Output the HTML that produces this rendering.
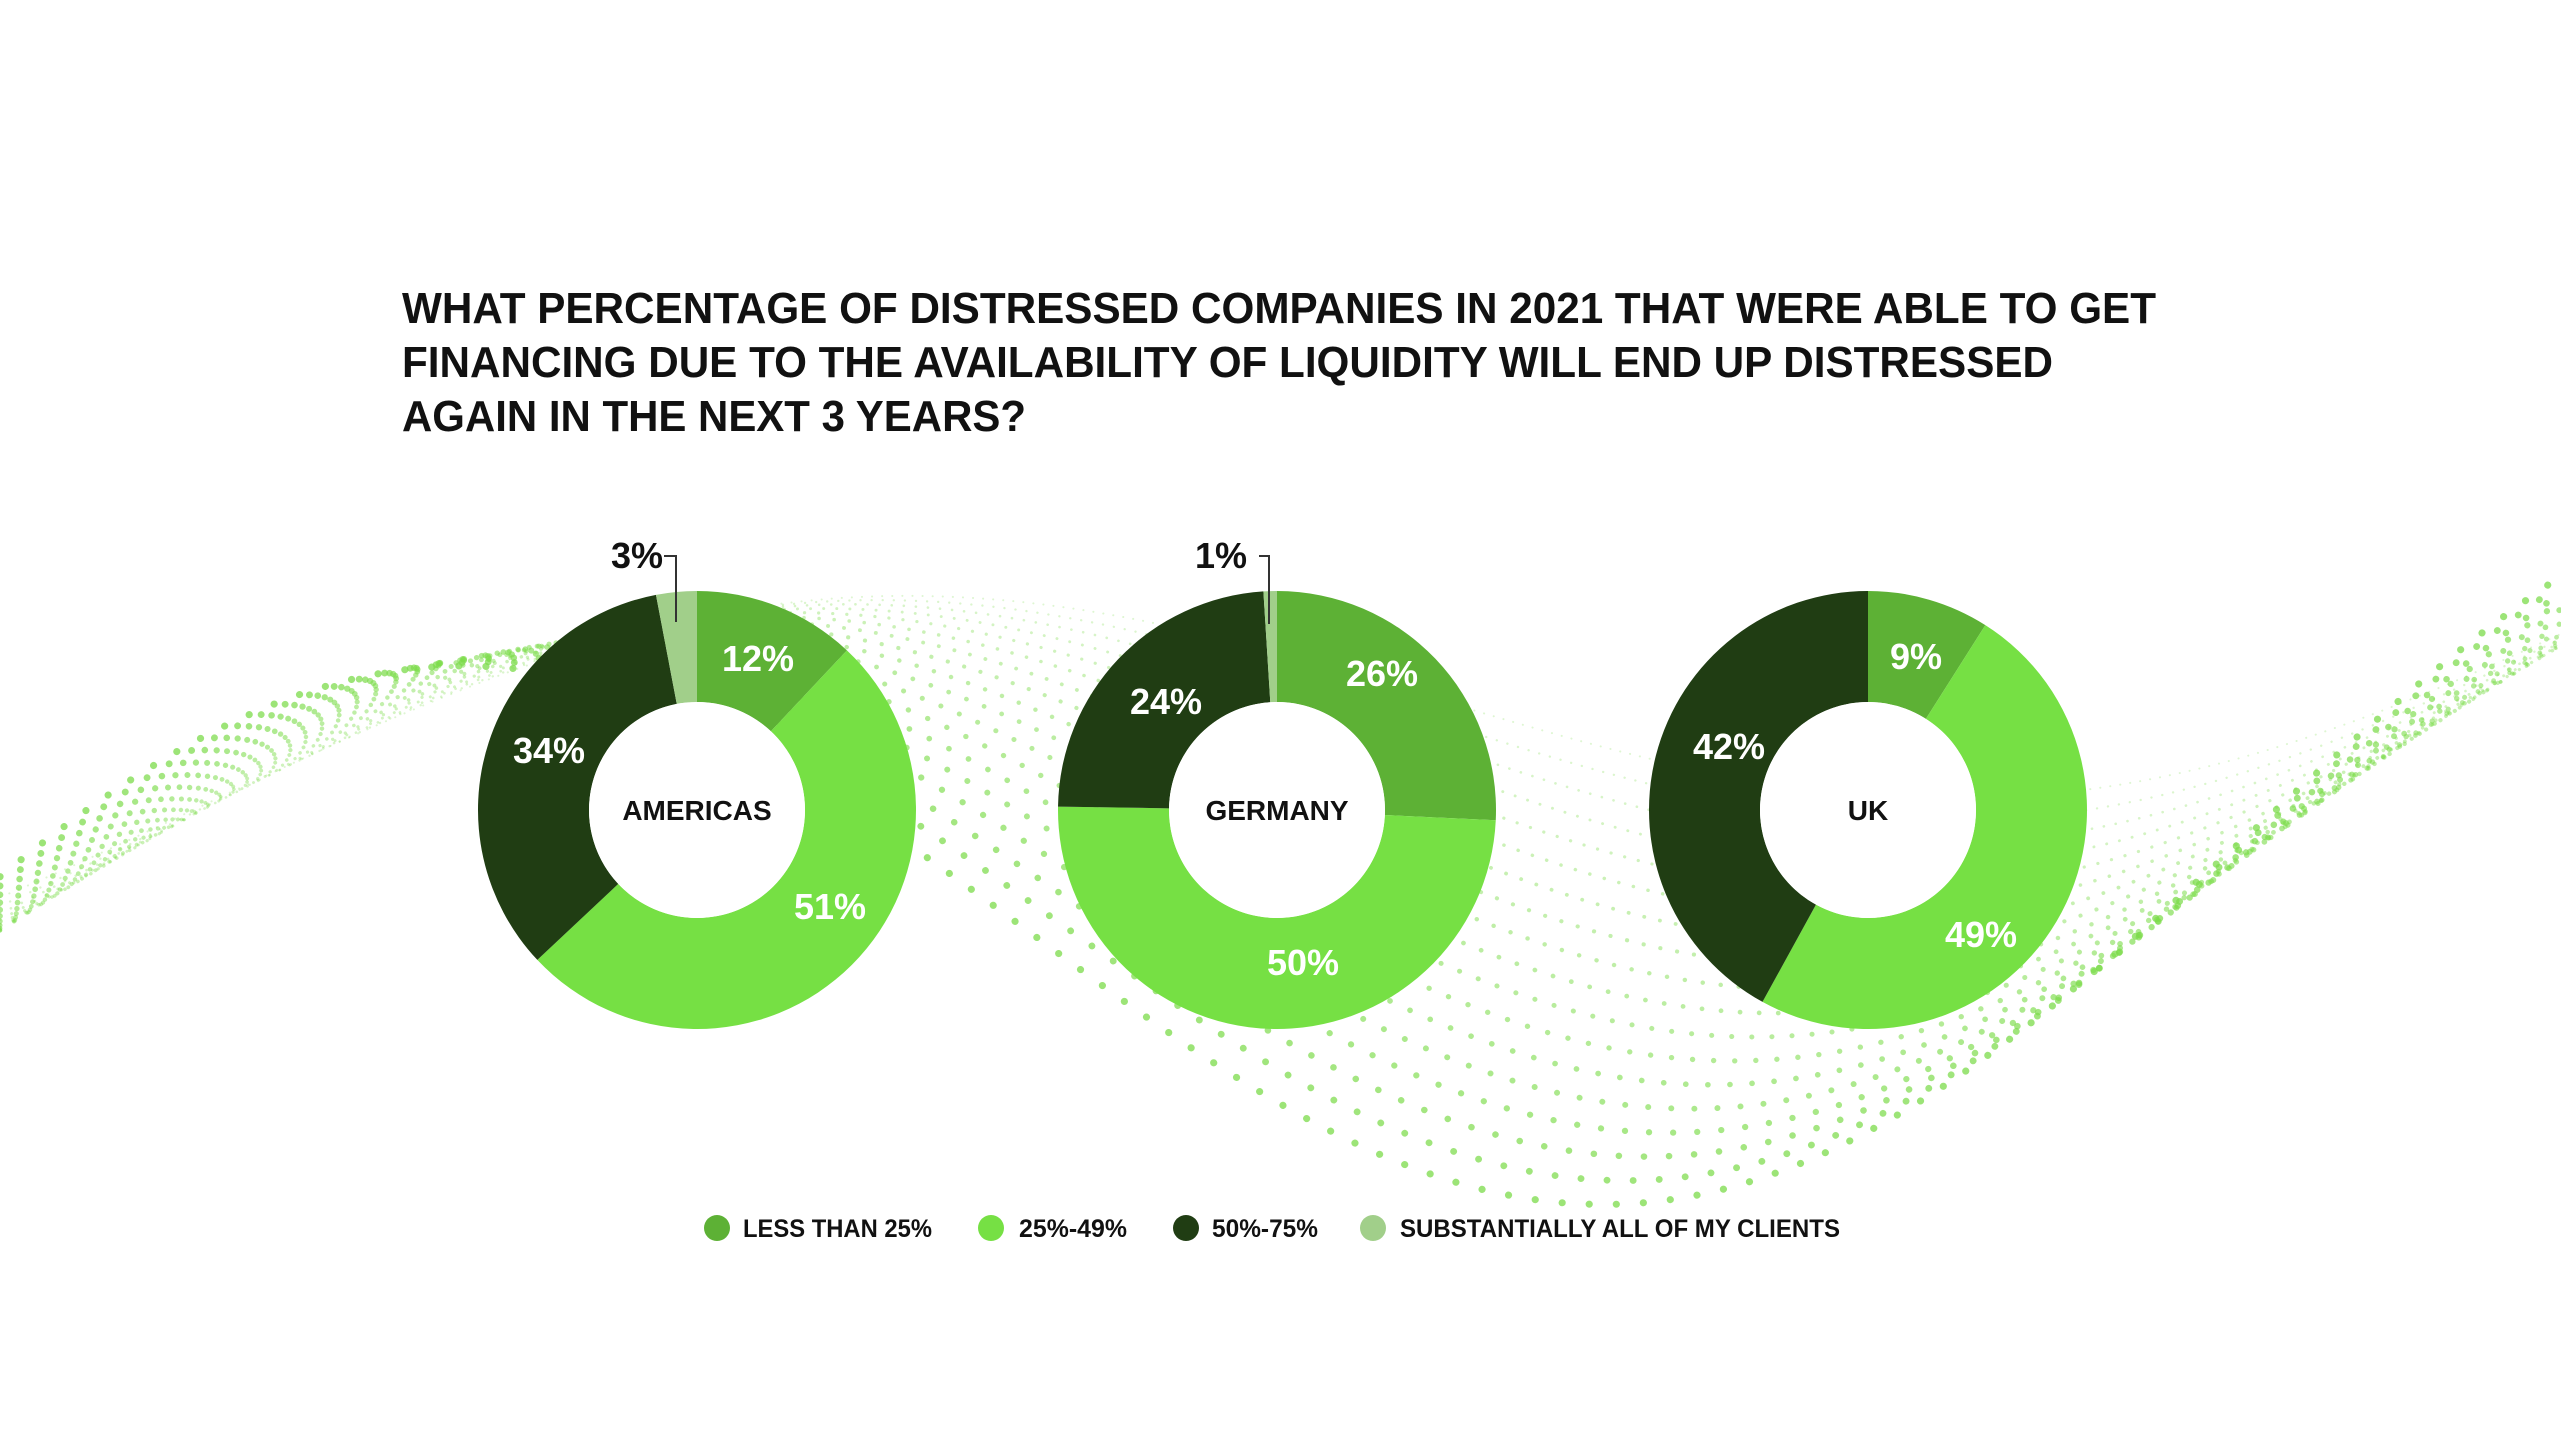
<!DOCTYPE html>
<html><head><meta charset="utf-8"><style>
html,body{margin:0;padding:0;background:#fff;}
svg{display:block;font-family:"Liberation Sans",sans-serif;font-weight:bold;}
</style></head><body>
<svg id="s" width="2561" height="1441" viewBox="0 0 2561 1441" xmlns="http://www.w3.org/2000/svg">
<g id="bg" fill="none" stroke-linecap="round"></g>
<text x="402" y="323" font-size="44" fill="#111" textLength="1754" lengthAdjust="spacingAndGlyphs">WHAT PERCENTAGE OF DISTRESSED COMPANIES IN 2021 THAT WERE ABLE TO GET</text>
<text x="402" y="377" font-size="44" fill="#111" textLength="1651" lengthAdjust="spacingAndGlyphs">FINANCING DUE TO THE AVAILABILITY OF LIQUIDITY WILL END UP DISTRESSED</text>
<text x="402" y="431" font-size="44" fill="#111" textLength="624" lengthAdjust="spacingAndGlyphs">AGAIN IN THE NEXT 3 YEARS?</text>
<g id="donuts"></g>
<text x="637" y="568" font-size="36" fill="#111" text-anchor="middle">3%</text>
<polyline points="664,556 676,556 676,622" fill="none" stroke="#333" stroke-width="2"/>
<text x="1221" y="568" font-size="36" fill="#111" text-anchor="middle">1%</text>
<polyline points="1259,556 1269,556 1269,624" fill="none" stroke="#333" stroke-width="2"/>
<g font-size="25" fill="#111">
<circle cx="717" cy="1228" r="13" fill="#5db135"/><text x="743" y="1237" textLength="189" lengthAdjust="spacingAndGlyphs">LESS THAN 25%</text>
<circle cx="991" cy="1228" r="13" fill="#76e044"/><text x="1019" y="1237" textLength="108" lengthAdjust="spacingAndGlyphs">25%-49%</text>
<circle cx="1186" cy="1228" r="13" fill="#203d13"/><text x="1212" y="1237" textLength="106" lengthAdjust="spacingAndGlyphs">50%-75%</text>
<circle cx="1373" cy="1228" r="13" fill="#a1cf8a"/><text x="1400" y="1237" textLength="440" lengthAdjust="spacingAndGlyphs">SUBSTANTIALLY ALL OF MY CLIENTS</text>
</g>
</svg>
<script>
var NS="http://www.w3.org/2000/svg";
var bg=document.getElementById("bg");
for(var i=0;i<18;i++){
  var p=document.createElementNS(NS,"path"),d="";
  for(var x=0;x<=2561;x+=20){
    var t=x/2561;
    var y=820+ (150+i*10)*Math.sin(t*Math.PI*2.1+2.6+i*0.06) - 220*t + i*12;
    d+=(x?"L":"M")+x+","+y.toFixed(1);
  }
  p.setAttribute("d",d);p.setAttribute("stroke","#7ddc4c");
  p.setAttribute("stroke-width",(2+i*0.3).toFixed(1));
  p.setAttribute("stroke-dasharray","0.1 "+(10+i));
  p.setAttribute("opacity",(0.25+0.03*i).toFixed(2));
  bg.appendChild(p);
}
var cols=["#5db135","#76e044","#203d13","#a1cf8a"];
var data=[[697,[12,51,34,3],"AMERICAS",[[758,658],[830,906],[549,750]]],
          [1277,[26,50,24,1],"GERMANY",[[1382,673],[1303,962],[1166,701]]],
          [1868,[9,49,42,0],"UK",[[1916,656],[1981,934],[1729,746]]]];
var g=document.getElementById("donuts"),cy=810,R=219,r=108;
function pt(cx,rad,a){return [cx+rad*Math.sin(a),cy-rad*Math.cos(a)];}
data.forEach(function(dd){
  var cx=dd[0],vals=dd[1],tot=vals.reduce(function(a,b){return a+b},0),acc=0;
  vals.forEach(function(v,k){
    if(!v)return;
    var a0=acc/tot*2*Math.PI,a1=(acc+v)/tot*2*Math.PI;acc+=v;
    var lg=(a1-a0)>Math.PI?1:0;
    var p1=pt(cx,R,a0),p2=pt(cx,R,a1),p3=pt(cx,r,a1),p4=pt(cx,r,a0);
    var path=document.createElementNS(NS,"path");
    path.setAttribute("d","M"+p1+"A"+R+","+R+" 0 "+lg+" 1 "+p2+"L"+p3+"A"+r+","+r+" 0 "+lg+" 0 "+p4+"Z");
    path.setAttribute("fill",cols[k]);g.appendChild(path);
  });
  vals.forEach(function(v,k){
    if(k>2)return;
    var m=dd[3][k],t=document.createElementNS(NS,"text");
    t.setAttribute("x",m[0]);t.setAttribute("y",m[1]+13);t.setAttribute("font-size","36");
    t.setAttribute("fill","#fff");t.setAttribute("text-anchor","middle");t.textContent=v+"%";g.appendChild(t);
  });
  var c=document.createElementNS(NS,"circle");c.setAttribute("cx",cx);c.setAttribute("cy",cy);c.setAttribute("r",r);c.setAttribute("fill","#fff");g.appendChild(c);
  var t=document.createElementNS(NS,"text");
  t.setAttribute("x",cx);t.setAttribute("y",cy+10);t.setAttribute("font-size","28");t.setAttribute("fill","#111");t.setAttribute("text-anchor","middle");t.textContent=dd[2];g.appendChild(t);
});
</script>
</body></html>
